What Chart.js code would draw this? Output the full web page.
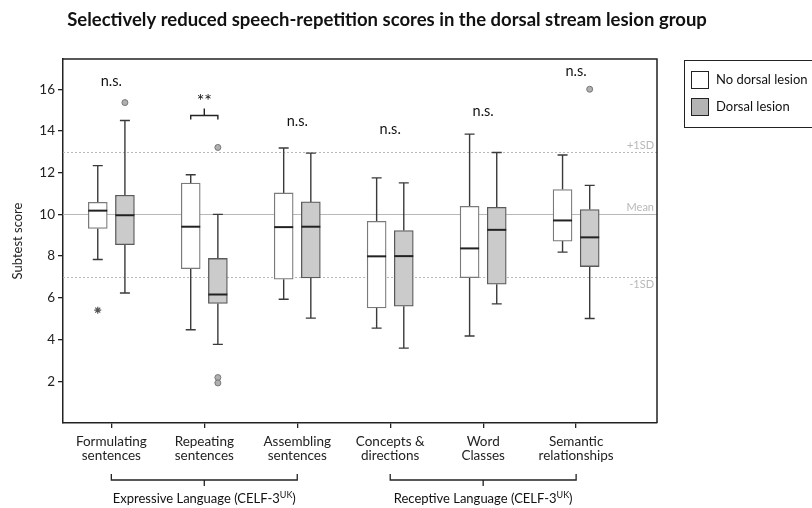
<!DOCTYPE html>
<html>
<head>
<meta charset="utf-8">
<script src="https://cdn.jsdelivr.net/npm/chart.js@4.4.0/dist/chart.umd.min.js"></script>
<style>
  html, body { margin: 0; padding: 0; background: #fff; }
  #wrap { width: 812px; height: 508px; }
</style>
</head>
<body>
<div id="wrap"><canvas id="chart" width="812" height="508"></canvas></div>
<script>
// subtests along the x axis (two-line labels)
const subtests = [
  ["Formulating", "sentences"],
  ["Repeating", "sentences"],
  ["Assembling", "sentences"],
  ["Concepts &", "directions"],
  ["Word", "Classes"],
  ["Semantic", "relationships"],
];
const groupNames = ["No dorsal lesion", "Dorsal lesion"];

// box summaries per subtest: [low whisker, Q1, median, Q3, high whisker]
const noLesion = [
  [7.84, 9.33, 10.18, 10.58, 12.34],
  [4.47, 7.4, 9.41, 11.5, 11.9],
  [5.93, 6.89, 9.39, 11.03, 13.18],
  [4.55, 5.52, 7.99, 9.67, 11.75],
  [4.17, 6.97, 8.37, 10.39, 13.85],
  [8.19, 8.72, 9.71, 11.19, 12.85],
];
const dorsalLesion = [
  [6.23, 8.55, 9.96, 10.92, 14.5],
  [3.77, 5.73, 6.16, 7.89, 10.0],
  [5.03, 6.95, 9.41, 10.6, 12.94],
  [3.59, 5.6, 8.0, 9.23, 11.51],
  [5.71, 6.65, 9.26, 10.34, 12.97],
  [5.01, 7.5, 8.9, 10.23, 11.39],
];
// outliers per subtest
const noLesionOutliers = [[5.41], [], [], [], [], []];
const dorsalOutliers = [[15.36], [13.21, 2.18, 1.92], [], [], [], [16.0]];

const significance = ["n.s.", "**", "n.s.", "n.s.", "n.s.", "n.s."];
const yTicks = [2, 4, 6, 8, 10, 12, 14, 16];
const refValues = [13, 10, 7];
const refLabels = ["+1SD", "Mean", "-1SD"];
const domainNames = ["Expressive Language (CELF-3", "Receptive Language (CELF-3"];
const domainSpans = [[0, 2], [3, 5]];

const FONT = "Lato, 'Open Sans', sans-serif";
const OFF = 0.146; // half distance between the two boxes, in category units
// where the significance marks sit (y, data units)
const sigY = [16.4, 15.55, 14.45, 14.09, 14.93, 16.87];

function boxData(arr, dx) {
  return arr.map((s, i) => ({ x: i + dx, y: [s[1], s[3]] }));
}
function outlierData(arr, dx) {
  const pts = [];
  arr.forEach((list, i) => list.forEach(v => pts.push({ x: i + dx, y: v })));
  return pts;
}

const boxPlot = {
  id: "boxPlot",
  beforeDatasetsDraw(chart) {
    const { ctx, chartArea: a, scales: { y } } = chart;
    ctx.save();
    ctx.lineWidth = 1;
    ctx.strokeStyle = "#b8b8b8";
    refValues.forEach((v, k) => {
      const py = Math.round(y.getPixelForValue(v)) + 0.5;
      ctx.setLineDash(k === 1 ? [] : [2, 2]);
      ctx.beginPath();
      ctx.moveTo(a.left, py);
      ctx.lineTo(a.right, py);
      ctx.stroke();
    });
    ctx.setLineDash([]);
    ctx.fillStyle = "#b8b8b8";
    ctx.font = "11px " + FONT;
    ctx.textAlign = "right";
    refValues.forEach((v, k) => {
      const py = y.getPixelForValue(v);
      ctx.textBaseline = k === 2 ? "top" : "bottom";
      ctx.fillText(refLabels[k], a.right - 3, k === 2 ? py + 2 : py - 1);
    });
    // whiskers
    ctx.strokeStyle = "#3a3a3a";
    ctx.lineWidth = 1.4;
    const whiskers = (arr, dx) => {
      arr.forEach((s, i) => {
        const px = chart.scales.x.getPixelForValue(i + dx);
        [[s[0], s[1]], [s[4], s[3]]].forEach(([end, edge]) => {
          const p1 = y.getPixelForValue(end), p2 = y.getPixelForValue(edge);
          ctx.beginPath();
          ctx.moveTo(px, p1); ctx.lineTo(px, p2);
          ctx.moveTo(px - 5, p1); ctx.lineTo(px + 5, p1);
          ctx.stroke();
        });
      });
    };
    whiskers(noLesion, -OFF);
    whiskers(dorsalLesion, OFF);
    ctx.restore();
  },
  afterDatasetsDraw(chart) {
    const { ctx, chartArea: a, scales: { x, y } } = chart;
    ctx.save();
    // medians
    ctx.strokeStyle = "#222";
    ctx.lineWidth = 2;
    [[noLesion, -OFF], [dorsalLesion, OFF]].forEach(([arr, dx]) => {
      arr.forEach((s, i) => {
        const px = x.getPixelForValue(i + dx), py = y.getPixelForValue(s[2]);
        ctx.beginPath();
        ctx.moveTo(px - 9.5, py); ctx.lineTo(px + 9.5, py);
        ctx.stroke();
      });
    });
    // frame top / right
    ctx.strokeStyle = "#222";
    ctx.lineWidth = 1.5;
    ctx.beginPath();
    ctx.moveTo(a.left, a.top); ctx.lineTo(a.right, a.top); ctx.lineTo(a.right, a.bottom);
    ctx.stroke();
    // significance marks
    ctx.fillStyle = "#111";
    ctx.textAlign = "center";
    ctx.textBaseline = "middle";
    significance.forEach((s, i) => {
      const px = x.getPixelForValue(i), py = y.getPixelForValue(sigY[i]);
      ctx.font = (s === "**" ? "18px " : "14.5px ") + FONT;
      ctx.fillText(s, px, py + (s === "**" ? 3 : 0));
      if (s === "**") {
        const l = x.getPixelForValue(i - OFF), r = x.getPixelForValue(i + OFF);
        const by = Math.round(py) + 16.5;
        ctx.lineWidth = 1.4;
        ctx.beginPath();
        ctx.moveTo(l, by + 4); ctx.lineTo(l, by); ctx.lineTo(r, by); ctx.lineTo(r, by + 4);
        ctx.moveTo(px, by); ctx.lineTo(px, by - 7);
        ctx.stroke();
      }
    });
    // domain brackets under the axis
    ctx.lineWidth = 1.3;
    domainSpans.forEach(([s, e], k) => {
      const l = x.getPixelForValue(s), r = x.getPixelForValue(e), m = (l + r) / 2;
      ctx.beginPath();
      ctx.moveTo(l, 474); ctx.lineTo(l, 480); ctx.lineTo(r, 480); ctx.lineTo(r, 474);
      ctx.moveTo(m, 480); ctx.lineTo(m, 486);
      ctx.stroke();
      ctx.font = "13px " + FONT;
      const w1 = ctx.measureText(domainNames[k]).width;
      ctx.font = "9px " + FONT;
      const w2 = ctx.measureText("UK").width;
      ctx.font = "13px " + FONT;
      const w3 = ctx.measureText(")").width;
      let sx = m - (w1 + w2 + w3) / 2;
      ctx.textAlign = "left";
      ctx.fillText(domainNames[k], sx, 499);
      ctx.font = "9px " + FONT;
      ctx.fillText("UK", sx + w1, 495);
      ctx.font = "13px " + FONT;
      ctx.fillText(")", sx + w1 + w2, 499);
      ctx.textAlign = "center";
    });
    // title
    ctx.font = "bold 18.5px " + FONT;
    ctx.textAlign = "center";
    ctx.fillText("Selectively reduced speech-repetition scores in the dorsal stream lesion group", 387, 20);
    // legend
    ctx.lineWidth = 1;
    ctx.strokeStyle = "#222";
    ctx.strokeRect(684.5, 60.5, 140, 67);
    ctx.strokeRect(691.5, 71.5, 17, 17);
    ctx.fillStyle = "#b4b4b4";
    ctx.fillRect(691.5, 98.5, 17, 17);
    ctx.strokeRect(691.5, 98.5, 17, 17);
    ctx.fillStyle = "#111";
    ctx.font = "13px " + FONT;
    ctx.textAlign = "left";
    ctx.fillText(groupNames[0], 716, 80);
    ctx.fillText(groupNames[1], 716, 107);
    ctx.restore();
  },
};

const ctx = document.getElementById("chart").getContext("2d");
new Chart(ctx, {
  type: "bar",
  data: {
    datasets: [
      {
        label: groupNames[0],
        data: boxData(noLesion, -OFF),
        backgroundColor: "#ffffff",
        borderColor: "#7a7a7a",
        borderWidth: 1.3,
        borderSkipped: false,
        barThickness: 19,
        grouped: false,
      },
      {
        label: groupNames[1],
        data: boxData(dorsalLesion, OFF),
        backgroundColor: "#cbcbcb",
        borderColor: "#5a5a5a",
        borderWidth: 1.3,
        borderSkipped: false,
        barThickness: 19,
        grouped: false,
      },
      {
        type: "scatter",
        label: "outliers no lesion",
        data: outlierData(noLesionOutliers, -OFF),
        pointStyle: "star",
        radius: 3.5,
        borderColor: "#555",
        borderWidth: 1.2,
      },
      {
        type: "scatter",
        label: "outliers dorsal",
        data: outlierData(dorsalOutliers, OFF),
        pointStyle: "circle",
        radius: 3,
        backgroundColor: "#b0b0b0",
        borderColor: "#777",
        borderWidth: 1,
      },
    ],
  },
  options: {
    responsive: false,
    animation: false,
    layout: { padding: { top: 59, right: 155, left: 0, bottom: 0 } },
    plugins: { legend: { display: false }, tooltip: { enabled: false } },
    scales: {
      x: {
        type: "linear",
        offset: false,
        min: -0.52,
        max: 5.87,
        afterBuildTicks: (scale) => { scale.ticks = subtests.map((_, i) => ({ value: i })); },
        afterFit: (scale) => { scale.height = 85; },
        ticks: {
          callback: (v) => subtests[v],
          autoSkip: false,
          maxRotation: 0,
          color: "#222",
          padding: 6,
          font: { family: FONT, size: 13.5, lineHeight: 1.08 },
        },
        grid: { offset: false, drawOnChartArea: false, drawTicks: true, tickLength: 5, color: "#222", lineWidth: 1.3 },
        border: { display: true, color: "#222", width: 1.5 },
      },
      y: {
        type: "linear",
        min: 0,
        max: 17.45,
        afterBuildTicks: (scale) => { scale.ticks = yTicks.map((v) => ({ value: v })); },
        afterFit: (scale) => { scale.width = 63; },
        ticks: { color: "#222", padding: 3, font: { family: FONT, size: 13.5 } },
        grid: { drawOnChartArea: false, drawTicks: true, tickLength: 5, color: "#222", lineWidth: 1.3 },
        border: { display: true, color: "#222", width: 1.5 },
        title: {
          display: true,
          text: "Subtest score",
          color: "#222",
          font: { family: FONT, size: 13 },
          padding: { top: 10, bottom: 0 },
        },
      },
    },
  },
  plugins: [boxPlot],
});
</script>
</body>
</html>
